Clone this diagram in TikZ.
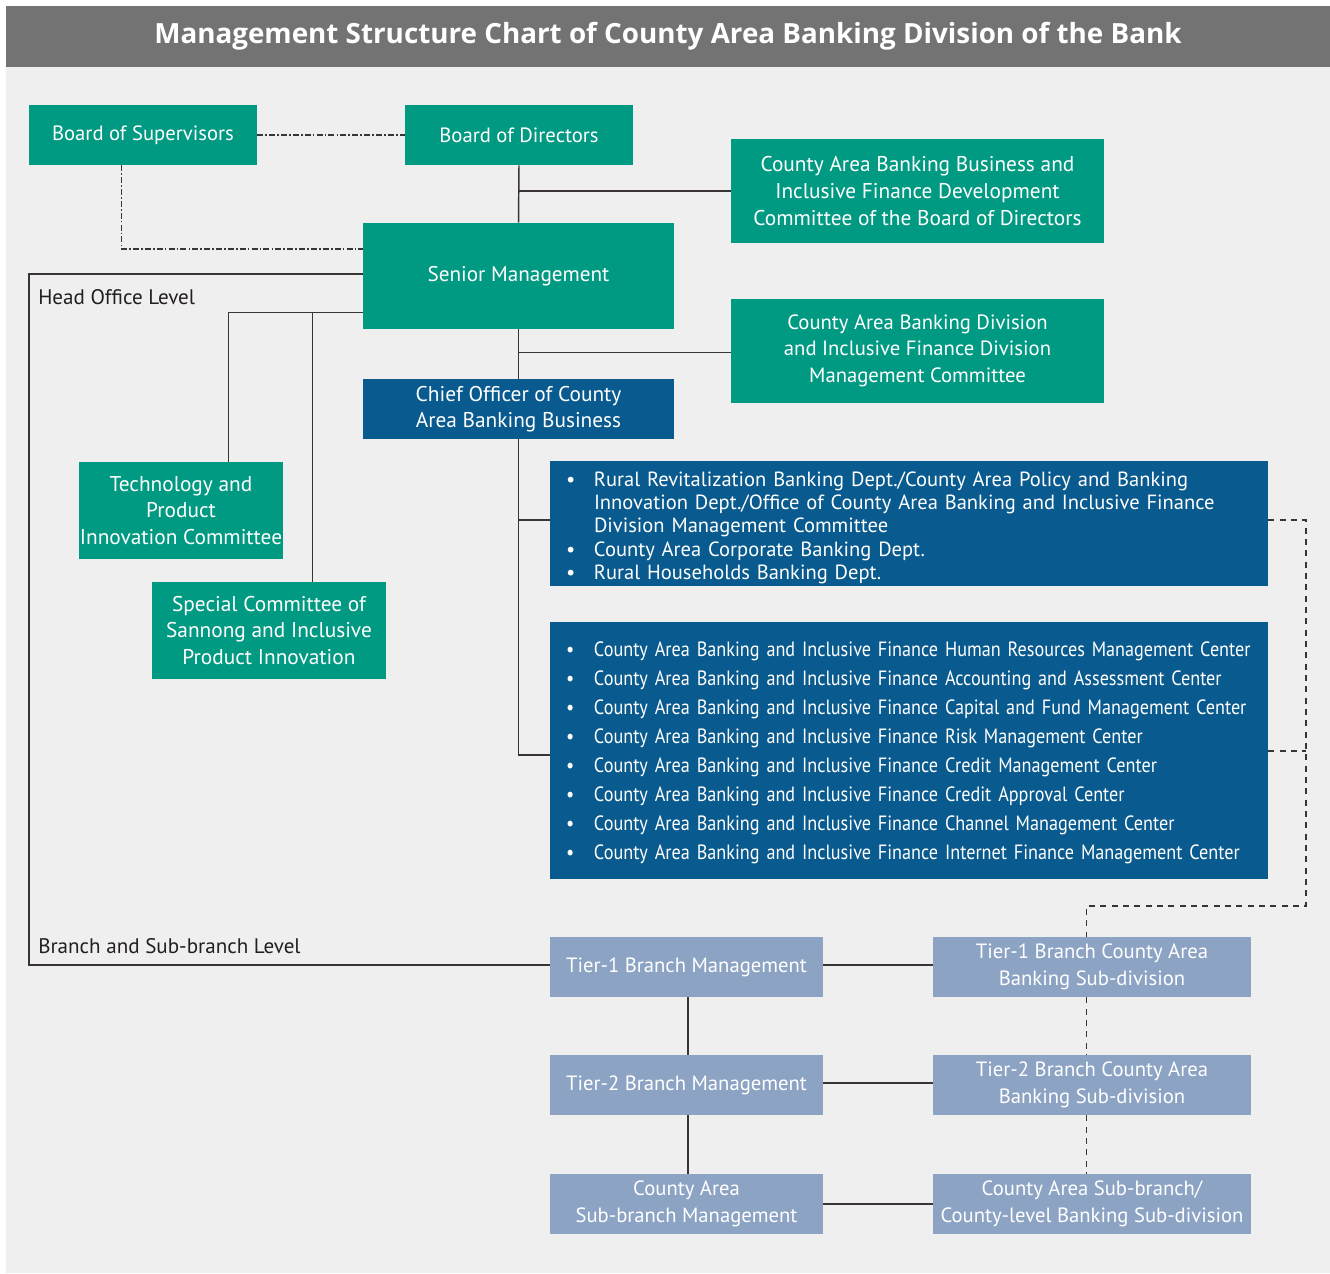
\documentclass[tikz,border=0pt]{standalone}
\usepackage{fontspec}
\setmainfont{PT Sans}
\newfontfamily\narrowfont{PT Sans}[FakeStretch=0.88]
\newfontfamily\headfont{Open Sans}
\usetikzlibrary{calc}
\definecolor{bggray}{HTML}{EFEFEF}
\definecolor{bargray}{HTML}{737373}
\definecolor{teal}{HTML}{009A82}
\definecolor{navy}{HTML}{095A8E}
\definecolor{slate}{HTML}{8CA3C4}
\definecolor{ink}{HTML}{3A3434}
\definecolor{labelink}{HTML}{231F20}
\newcommand{\bl}{\makebox[21pt][l]{\textbullet}}
\newcommand{\cont}{\hspace*{21pt}}
\begin{document}
\begin{tikzpicture}[x=0.75pt,y=-0.75pt,
  sz/.style 2 args={minimum width=#1*0.75pt,minimum height=#2*0.75pt},
  box/.style={inner sep=0pt,align=center,text=white,font={\fontsize{15.5}{20}\selectfont}},
  tealbox/.style={box,fill=teal},
  navybox/.style={box,fill=navy},
  slatebox/.style={box,fill=slate},
  listbox/.style={navybox,align=left,inner xsep=12pt},
  link/.style={draw=ink,line width=1.1pt},
  dashdotlink/.style={draw=ink,line width=1.1pt,dash pattern=on 4.5pt off 1.6pt on 1.2pt off 1.6pt},
  dashlink/.style={draw=ink,line width=1.1pt,dash pattern=on 4.5pt off 4pt},
  levellabel/.style={inner sep=0pt,text=labelink,font={\fontsize{15.8}{19}\selectfont}}]
\useasboundingbox (0,0) rectangle (1330,1273);
\fill[bggray] (6,67) rectangle (1330,1273);
\node[fill=bargray,sz={1324}{61},inner sep=0pt,text=white,font={\headfont\bfseries\fontsize{20.85}{24}\selectfont}] (title) at (668,36.5)
  {\raisebox{-2.5pt}{Management Structure Chart of County Area Banking Division of the Bank}};

% head office level
\node[tealbox,sz={228}{60}] (bos) at (143,135) {Board of Supervisors};
\node[tealbox,sz={228}{60}] (bod) at (519,135) {Board of Directors};
\node[tealbox,sz={373}{104},font={\fontsize{16}{20}\selectfont}] (cab) at (917.5,191) {County Area Banking Business and\\Inclusive Finance Development\\Committee of the Board of Directors};
\node[tealbox,sz={311}{106},font={\fontsize{15.9}{20}\selectfont}] (sm) at (518.5,276) {Senior Management};
\node[tealbox,sz={373}{104}] (cab2) at (917.5,350.5) {County Area Banking Division\\and Inclusive Finance Division\\Management Committee};
\node[navybox,sz={311}{60},font={\fontsize{16}{20}\selectfont}] (co) at (518.5,409) {Chief Officer of County\\Area Banking Business};
\node[tealbox,sz={204}{97},font={\fontsize{16}{20}\selectfont}] (tech) at (181,510.5) {Technology and\\Product\\Innovation Committee};
\node[tealbox,sz={234}{97},font={\fontsize{16}{20}\selectfont}] (spc) at (269,630.5) {Special Committee of\\Sannong and Inclusive\\Product Innovation};

% the tall strut on each first line lowers the list a little in its box
\node[listbox,sz={718}{125},text width=514.5pt,font={\fontsize{15.4}{17.4}\selectfont}] (l1) at (909,523.5)
  {\rule{0pt}{17.5pt}\bl Rural Revitalization Banking Dept./County Area Policy and Banking\\
   \cont Innovation Dept./Office of County Area Banking and Inclusive Finance\\
   \cont Division Management Committee\\
   \bl County Area Corporate Banking Dept.\\
   \bl Rural Households Banking Dept.};
\node[listbox,sz={718}{257},text width=514.5pt,font={\narrowfont\fontsize{15.5}{21.75}\selectfont}] (l2) at (909,750.5)
  {\rule{0pt}{14pt}\bl County Area Banking and Inclusive Finance Human Resources Management Center\\
   \bl County Area Banking and Inclusive Finance Accounting and Assessment Center\\
   \bl County Area Banking and Inclusive Finance Capital and Fund Management Center\\
   \bl County Area Banking and Inclusive Finance Risk Management Center\\
   \bl County Area Banking and Inclusive Finance Credit Management Center\\
   \bl County Area Banking and Inclusive Finance Credit Approval Center\\
   \bl County Area Banking and Inclusive Finance Channel Management Center\\
   \bl County Area Banking and Inclusive Finance Internet Finance Management Center};

% branch and sub-branch level
\node[slatebox,sz={273}{60}] (t1) at (686.5,967) {Tier-1 Branch Management};
\node[slatebox,sz={273}{60}] (t2) at (686.5,1085) {Tier-2 Branch Management};
\node[slatebox,sz={273}{60}] (t3) at (686.5,1204) {County Area\\Sub-branch Management};
\node[slatebox,sz={318}{60}] (s1) at (1092,967) {Tier-1 Branch County Area\\Banking Sub-division};
\node[slatebox,sz={318}{60}] (s2) at (1092,1085) {Tier-2 Branch County Area\\Banking Sub-division};
\node[slatebox,sz={318}{60}] (s3) at (1092,1204) {County Area Sub-branch/\\County-level Banking Sub-division};

\node[levellabel,anchor=base west] (hol) at (38,304) {Head Office Level};
\node[levellabel,anchor=base west] (bsl) at (38,953) {Branch and Sub-branch Level};

% supervision links
\draw[dashdotlink] (bos.east) -- (bod.west);
\draw[dashdotlink] ($(bos.south west)+(93,0)$) |- ($(sm.west)+(0,-27)$);

% reporting lines
\draw[link] (bod.south) -- (sm.north);
\draw[link] (cab.west -| bod.south) -- (cab.west);
\draw[link] (sm.south) -- (co.north);
\coordinate (c2) at ($(cab2.west)+(0,2)$);
\draw[link] (c2 -| sm.south) -- (c2);
\coordinate (c3) at ($(l1.west)+(0,-3.5)$);
\coordinate (c4) at ($(l2.west)+(0,4.5)$);
\draw[link] (co.south) |- (c4);
\draw[link] (c3 -| co.south) -- (c3);

\coordinate (lane) at (29,0);
\coordinate (c5) at ($(sm.west)+(0,-2)$);
\coordinate (c6) at ($(t1.west)+(0,-2)$);
\draw[link] (c5) -| (lane |- c6) -- (c6);
\coordinate (j) at ($(sm.south west)+(0,-17)$);
\coordinate (tj) at ($(tech.north west)+(150,0)$);
\coordinate (sj) at ($(spc.north west)+(161,0)$);
\draw[link] (j) -| (tj);
\draw[link] (sj |- j) -- (sj);

\draw[link] ($(t1.south)+(1.5,0)$) -- ($(t2.north)+(1.5,0)$);
\draw[link] ($(t2.south)+(1.5,0)$) -- ($(t3.north)+(1.5,0)$);
\draw[link] ($(t1.east)+(0,-2)$) -- ($(s1.west)+(0,-2)$);
\draw[link] ($(t2.east)+(0,-2)$) -- ($(s2.west)+(0,-2)$);
\draw[link] (t3.east) -- (s3.west);

% guidance links
\coordinate (bend) at (1306,906);
\coordinate (s1top) at ($(s1.north west)+(154,0)$);
\coordinate (c7) at ($(l1.east)+(0,-3.5)$);
\coordinate (c8) at ($(l2.east)+(0,0.5)$);
\draw[dashlink] (c7) -| (bend) -| (s1top);
\draw[dashlink] (c8) -- (c8 -| bend);
\draw[dashlink] (s1top |- s1.south) -- (s1top |- s2.north);
\draw[dashlink] (s1top |- s2.south) -- (s1top |- s3.north);
\end{tikzpicture}
\end{document}
